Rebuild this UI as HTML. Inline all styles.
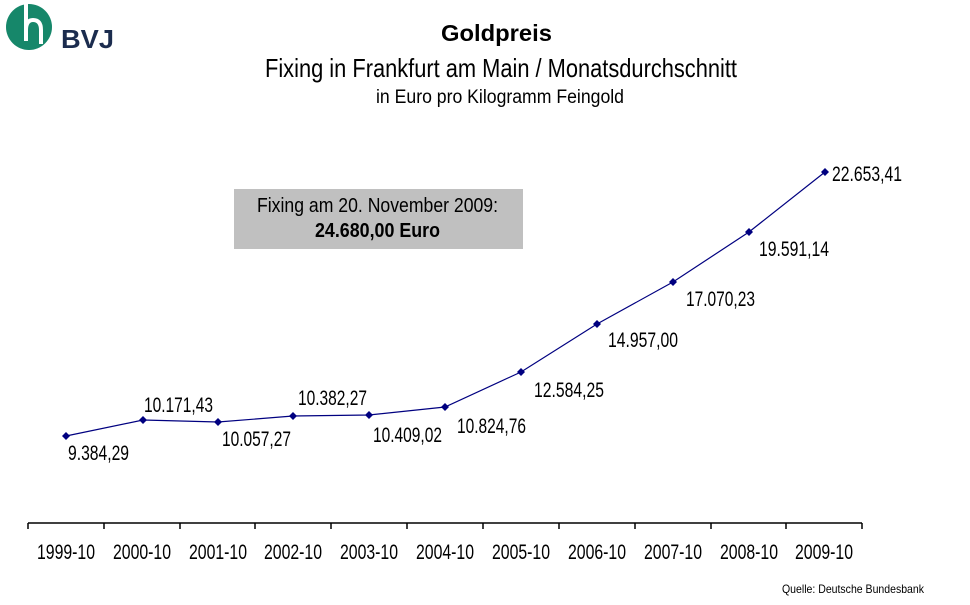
<!DOCTYPE html>
<html><head><meta charset="utf-8"><style>
html,body{margin:0;padding:0;background:#fff;}
svg{display:block;font-family:"Liberation Sans",Arial,sans-serif;}
</style></head><body>
<svg width="970" height="605" viewBox="0 0 970 605" xmlns="http://www.w3.org/2000/svg">
<rect width="970" height="605" fill="#fff"/>
<!-- logo -->
<circle cx="29" cy="27" r="23" fill="#16876a"/>
<path d="M26 3 V41 M26 30 Q26 20 33 20 Q41 20 41 30 V44" stroke="#fff" stroke-width="4" fill="none"/>
<text x="61" y="48" font-size="26" font-weight="bold" fill="#1b2c4e" textLength="53" lengthAdjust="spacingAndGlyphs">BVJ</text>
<!-- titles -->
<text x="441" y="41" font-size="23" font-weight="bold" fill="#000" textLength="111" lengthAdjust="spacingAndGlyphs">Goldpreis</text>
<text x="265" y="77" font-size="26" fill="#000" textLength="472" lengthAdjust="spacingAndGlyphs">Fixing in Frankfurt am Main / Monatsdurchschnitt</text>
<text x="376" y="103" font-size="19" fill="#000" textLength="248" lengthAdjust="spacingAndGlyphs">in Euro pro Kilogramm Feingold</text>
<!-- box -->
<rect x="234" y="189" width="289" height="60" fill="#c0c0c0"/>
<text x="257" y="212" font-size="20" fill="#000" textLength="241" lengthAdjust="spacingAndGlyphs">Fixing am 20. November 2009:</text>
<text x="315" y="237" font-size="20" font-weight="bold" fill="#000" textLength="125" lengthAdjust="spacingAndGlyphs">24.680,00 Euro</text>
<!-- axis -->
<g stroke="#000" stroke-width="1.5" fill="none">
<path d="M28 523 H862"/>
<path d="M28 523v6M104 523v6M180 523v6M255 523v6M331 523v6M407 523v6M483 523v6M559 523v6M635 523v6M711 523v6M786 523v6M862 523v6"/>
</g>
<g font-size="21" fill="#000">
<text x="37" y="559" textLength="58" lengthAdjust="spacingAndGlyphs">1999-10</text>
<text x="113" y="559" textLength="58" lengthAdjust="spacingAndGlyphs">2000-10</text>
<text x="189" y="559" textLength="58" lengthAdjust="spacingAndGlyphs">2001-10</text>
<text x="264" y="559" textLength="58" lengthAdjust="spacingAndGlyphs">2002-10</text>
<text x="340" y="559" textLength="58" lengthAdjust="spacingAndGlyphs">2003-10</text>
<text x="416" y="559" textLength="58" lengthAdjust="spacingAndGlyphs">2004-10</text>
<text x="492" y="559" textLength="58" lengthAdjust="spacingAndGlyphs">2005-10</text>
<text x="568" y="559" textLength="58" lengthAdjust="spacingAndGlyphs">2006-10</text>
<text x="644" y="559" textLength="58" lengthAdjust="spacingAndGlyphs">2007-10</text>
<text x="720" y="559" textLength="58" lengthAdjust="spacingAndGlyphs">2008-10</text>
<text x="795" y="559" textLength="58" lengthAdjust="spacingAndGlyphs">2009-10</text>
</g>
<!-- series -->
<polyline points="66,436 143,420 218,422 293,416 369,415 445,407 521,372 597,324 673,282 749,232 825,172" fill="none" stroke="#000080" stroke-width="1.2"/>
<g fill="#000080">
<path d="M66 432l4 4-4 4-4-4z"/><path d="M143 416l4 4-4 4-4-4z"/><path d="M218 418l4 4-4 4-4-4z"/>
<path d="M293 412l4 4-4 4-4-4z"/><path d="M369 411l4 4-4 4-4-4z"/><path d="M445 403l4 4-4 4-4-4z"/>
<path d="M521 368l4 4-4 4-4-4z"/><path d="M597 320l4 4-4 4-4-4z"/><path d="M673 278l4 4-4 4-4-4z"/>
<path d="M749 228l4 4-4 4-4-4z"/><path d="M825 168l4 4-4 4-4-4z"/>
</g>
<g font-size="21" fill="#000">
<text x="68" y="460" textLength="61" lengthAdjust="spacingAndGlyphs">9.384,29</text>
<text x="144" y="412" textLength="69" lengthAdjust="spacingAndGlyphs">10.171,43</text>
<text x="222" y="446" textLength="69" lengthAdjust="spacingAndGlyphs">10.057,27</text>
<text x="298" y="405" textLength="69" lengthAdjust="spacingAndGlyphs">10.382,27</text>
<text x="373" y="442" textLength="69" lengthAdjust="spacingAndGlyphs">10.409,02</text>
<text x="457" y="433" textLength="69" lengthAdjust="spacingAndGlyphs">10.824,76</text>
<text x="534" y="397" textLength="70" lengthAdjust="spacingAndGlyphs">12.584,25</text>
<text x="608" y="347" textLength="70" lengthAdjust="spacingAndGlyphs">14.957,00</text>
<text x="686" y="306" textLength="69" lengthAdjust="spacingAndGlyphs">17.070,23</text>
<text x="759" y="256" textLength="70" lengthAdjust="spacingAndGlyphs">19.591,14</text>
<text x="832" y="181" textLength="70" lengthAdjust="spacingAndGlyphs">22.653,41</text>
</g>
<text x="782" y="593" font-size="12" fill="#000" textLength="142" lengthAdjust="spacingAndGlyphs">Quelle: Deutsche Bundesbank</text>
</svg>
</body></html>
